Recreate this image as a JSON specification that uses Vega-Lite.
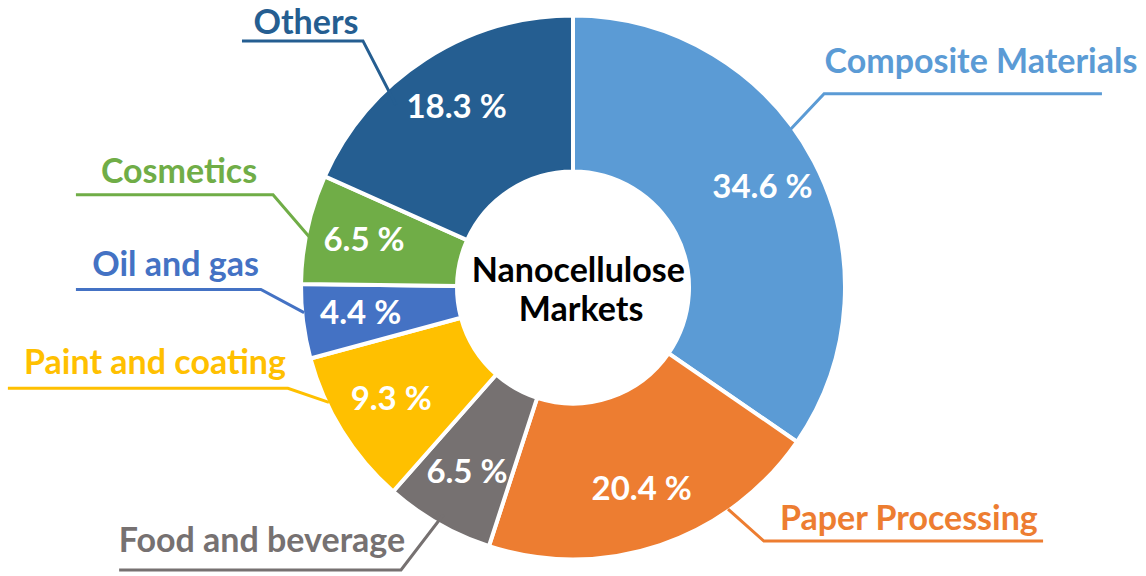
{
  "$schema": "https://vega.github.io/schema/vega-lite/v6.json",
  "width": 1146,
  "height": 576,
  "padding": 0,
  "autosize": {"type": "fit", "contains": "padding"},
  "background": "white",
  "config": {"view": {"stroke": null}, "text": {"font": "Lato", "fontWeight": "bold"}},
  "datasets": {
    "slices": [
      {"category": "Composite Materials", "value": 34.6, "order": 1, "pct_label": "34.6 %"},
      {"category": "Paper Processing", "value": 20.4, "order": 2, "pct_label": "20.4 %"},
      {"category": "Food and beverage", "value": 6.5, "order": 3, "pct_label": "6.5 %"},
      {"category": "Paint and coating", "value": 9.3, "order": 4, "pct_label": "9.3 %"},
      {"category": "Oil and gas", "value": 4.4, "order": 5, "pct_label": "4.4 %"},
      {"category": "Cosmetics", "value": 6.5, "order": 6, "pct_label": "6.5 %"},
      {"category": "Others", "value": 18.3, "order": 7, "pct_label": "18.3 %"}
    ],
    "leaders": [
      {"category": "Composite Materials", "pt": 1, "u": 0.800, "v": 0.581},
      {"category": "Composite Materials", "pt": 2, "u": 0.930, "v": 0.719},
      {"category": "Composite Materials", "pt": 3, "u": 1.959, "v": 0.719},
      {"category": "Paper Processing", "pt": 1, "u": 0.574, "v": -0.822},
      {"category": "Paper Processing", "pt": 2, "u": 0.707, "v": -0.941},
      {"category": "Paper Processing", "pt": 3, "u": 1.741, "v": -0.941},
      {"category": "Food and beverage", "pt": 1, "u": -0.481, "v": -0.844},
      {"category": "Food and beverage", "pt": 2, "u": -0.637, "v": -1.048},
      {"category": "Food and beverage", "pt": 3, "u": -1.681, "v": -1.048},
      {"category": "Paint and coating", "pt": 1, "u": -0.904, "v": -0.426},
      {"category": "Paint and coating", "pt": 2, "u": -1.056, "v": -0.374},
      {"category": "Paint and coating", "pt": 3, "u": -2.093, "v": -0.374},
      {"category": "Oil and gas", "pt": 1, "u": -0.996, "v": -0.093},
      {"category": "Oil and gas", "pt": 2, "u": -1.156, "v": -0.007},
      {"category": "Oil and gas", "pt": 3, "u": -1.841, "v": -0.007},
      {"category": "Cosmetics", "pt": 1, "u": -0.978, "v": 0.189},
      {"category": "Cosmetics", "pt": 2, "u": -1.111, "v": 0.344},
      {"category": "Cosmetics", "pt": 3, "u": -1.841, "v": 0.344},
      {"category": "Others", "pt": 1, "u": -0.656, "v": 0.678},
      {"category": "Others", "pt": 2, "u": -0.778, "v": 0.915},
      {"category": "Others", "pt": 3, "u": -1.226, "v": 0.915}
    ],
    "labels": [
      {"category": "Composite Materials", "u": 1.511, "v": 0.796},
      {"category": "Paper Processing", "u": 1.244, "v": -0.900},
      {"category": "Food and beverage", "u": -1.152, "v": -0.981},
      {"category": "Paint and coating", "u": -1.548, "v": -0.322},
      {"category": "Oil and gas", "u": -1.472, "v": 0.041},
      {"category": "Cosmetics", "u": -1.459, "v": 0.389},
      {"category": "Others", "u": -0.989, "v": 0.942}
    ],
    "center": [
      {"text": "Nanocellulose", "u": 0.020, "v": 0.019},
      {"text": "Markets", "u": 0.030, "v": -0.126}
    ]
  },
  "layer": [
    {
      "data": {"name": "slices"},
      "mark": {"type": "arc", "outerRadius": 272, "innerRadius": 116, "stroke": "white", "strokeWidth": 4},
      "encoding": {
        "theta": {"field": "value", "type": "quantitative", "stack": true},
        "order": {"field": "order", "type": "quantitative", "sort": "ascending"},
        "color": {"field": "category", "type": "nominal", "legend": null,
          "scale": {
            "domain": ["Composite Materials", "Paper Processing", "Food and beverage", "Paint and coating", "Oil and gas", "Cosmetics", "Others"],
            "range": ["#5B9BD5", "#ED7D31", "#767171", "#FFC000", "#4472C4", "#70AD47", "#255E91"]
          }}
      }
    },
    {
      "data": {"name": "slices"},
      "mark": {"type": "text", "radius": 214, "fontSize": 33, "fill": "white", "align": "center", "baseline": "middle"},
      "encoding": {
        "theta": {"field": "value", "type": "quantitative", "stack": true},
        "order": {"field": "order", "type": "quantitative", "sort": "ascending"},
        "text": {"field": "pct_label", "type": "nominal"}
      }
    },
    {
      "data": {"name": "leaders"},
      "mark": {"type": "line", "strokeWidth": 3, "interpolate": "linear"},
      "encoding": {
        "x": {"field": "u", "type": "quantitative", "axis": null, "scale": {"domain": [-2.1222, 2.1222], "nice": false, "zero": false}},
        "y": {"field": "v", "type": "quantitative", "axis": null, "scale": {"domain": [-1.0667, 1.0667], "nice": false, "zero": false}},
        "detail": {"field": "category", "type": "nominal"},
        "order": {"field": "pt", "type": "quantitative"},
        "color": {"field": "category", "type": "nominal", "legend": null}
      }
    },
    {
      "data": {"name": "labels"},
      "mark": {"type": "text", "fontSize": 34, "align": "center", "baseline": "alphabetic"},
      "encoding": {
        "x": {"field": "u", "type": "quantitative"},
        "y": {"field": "v", "type": "quantitative"},
        "text": {"field": "category", "type": "nominal"},
        "color": {"field": "category", "type": "nominal", "legend": null}
      }
    },
    {
      "data": {"name": "center"},
      "mark": {"type": "text", "fontSize": 34, "align": "center", "baseline": "alphabetic", "fill": "black"},
      "encoding": {
        "x": {"field": "u", "type": "quantitative"},
        "y": {"field": "v", "type": "quantitative"},
        "text": {"field": "text", "type": "nominal"}
      }
    }
  ]
}
